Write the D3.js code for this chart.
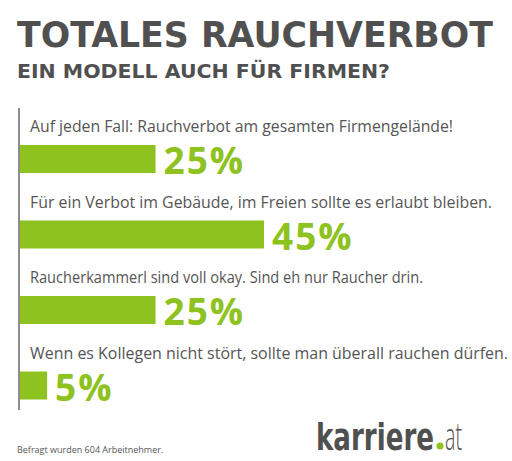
<!DOCTYPE html><html><head><meta charset="utf-8"><script src="https://cdn.jsdelivr.net/npm/d3@7"></script>
<style>body{margin:0;background:#fff}</style></head><body><script>
const categories=["Auf jeden Fall: Rauchverbot am gesamten Firmengelände!","Für ein Verbot im Gebäude, im Freien sollte es erlaubt bleiben.","Raucherkammerl sind voll okay. Sind eh nur Raucher drin.","Wenn es Kollegen nicht stört, sollte man überall rauchen dürfen."];
const labelWidths=[423,462,393,478];
const values=[25,45,25,5];
const W=512,H=461,grey="#505050",green="#8dc21f";
const svg=d3.select("body").append("svg").attr("width",W).attr("height",H).style("font-family","'Open Sans',sans-serif");
svg.append("text").attr("x",17).attr("y",47).attr("font-family","'DejaVu Sans'").attr("font-size",36).attr("font-weight",700).attr("fill",grey).attr("textLength",476).attr("lengthAdjust","spacingAndGlyphs").text("TOTALES RAUCHVERBOT");
svg.append("text").attr("x",17).attr("y",78).attr("font-family","'DejaVu Sans'").attr("font-size",19).attr("font-weight",700).attr("fill",grey).attr("textLength",373).attr("lengthAdjust","spacingAndGlyphs").text("EIN MODELL AUCH FÜR FIRMEN?");
const x=d3.scaleLinear().domain([0,45]).range([20,264]);
const y=d3.scaleBand().domain(d3.range(4)).range([108,410]);
svg.append("line").attr("x1",19).attr("x2",19).attr("y1",108).attr("y2",410).attr("stroke","#666").attr("stroke-width",1.5);
const g=svg.selectAll("g.r").data(values).enter().append("g");
g.append("text").attr("x",30).attr("y",(d,i)=>y(i)+24).attr("font-size",16).attr("fill","#555").attr("textLength",(d,i)=>labelWidths[i]).attr("lengthAdjust","spacingAndGlyphs").text((d,i)=>categories[i]);
g.append("rect").attr("x",x(0)).attr("y",(d,i)=>y(i)+37).attr("width",d=>x(d)-x(0)).attr("height",28).attr("fill",green);
g.append("text").attr("x",d=>x(d)+8).attr("y",(d,i)=>y(i)+66).attr("font-size",37).attr("font-weight",700).attr("letter-spacing",2).attr("fill",green).text(d=>d+"%");
svg.append("text").attr("x",17).attr("y",453).attr("font-size",9).attr("fill","#555").text("Befragt wurden 604 Arbeitnehmer.");
svg.append("text").attr("x",316).attr("y",450).attr("font-family","'DejaVu Sans'").attr("font-size",38).attr("font-weight",700).attr("fill",grey).attr("textLength",118).attr("lengthAdjust","spacingAndGlyphs").text("karriere");
svg.append("circle").attr("cx",440).attr("cy",446).attr("r",3.5).attr("fill",green);
svg.append("text").attr("x",445).attr("y",450).attr("font-size",38).attr("font-weight",300).attr("fill",grey).attr("textLength",17).attr("lengthAdjust","spacingAndGlyphs").text("at");
</script></body></html>
